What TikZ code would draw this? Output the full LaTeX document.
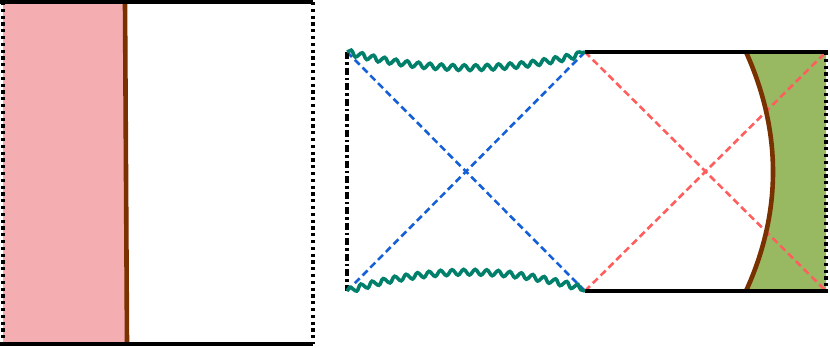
\documentclass[tikz,border=0pt]{standalone}
\usetikzlibrary{decorations.pathmorphing}
\definecolor{pinkfill}{HTML}{F4ADB0}
\definecolor{brownline}{HTML}{7A3100}
\definecolor{greenfill}{HTML}{98B861}
\definecolor{wavecol}{HTML}{00806A}
\definecolor{bluedash}{HTML}{1560D8}
\definecolor{reddash}{HTML}{FF5E5E}
\tikzset{
  frame/.style={line width=3.6pt, black},
  dotedge/.style={line width=3.6pt, black, dash pattern=on 3.2pt off 3.6pt},
  dashdotedge/.style={line width=3.2pt, black, dash pattern=on 7pt off 3pt on 2.5pt off 3pt},
  wall/.style={line width=4.6pt, brownline},
  wave/.style={line width=3.6pt, wavecol, decorate, decoration={snake, segment length=11.5pt, amplitude=2.8pt}},
  diagb/.style={line width=2.6pt, bluedash, dash pattern=on 7pt off 4pt},
  diagr/.style={line width=2.6pt, reddash, dash pattern=on 7pt off 4pt},
}
\begin{document}
\begin{tikzpicture}[x=1pt,y=-1pt]
\useasboundingbox (0,0) rectangle (830,348);
% ---------- left panel ----------
\coordinate (LTL) at (3,2);
\coordinate (LTR) at (313,2);
\coordinate (LBL) at (3,344);
\coordinate (LBR) at (313,344);
\coordinate (WT) at (125,2);
\coordinate (WB) at (127,344);
\fill[pinkfill] (LTL) -- (WT) -- (WB) -- (LBL) -- cycle;
\draw[wall] (WT) -- (WB);
\draw[dotedge] (LTL) -- (LBL);
\draw[dotedge] (LTR) -- (LBR);
\draw[frame] (0,2) -- (LTR);
\draw[frame] (0,344) -- (LBR);
% ---------- right panel ----------
\coordinate (A) at (347,52);
\coordinate (B) at (347,291);
\coordinate (C) at (585,52);
\coordinate (D) at (585,291);
\coordinate (E) at (826,52);
\coordinate (F) at (826,291);
\coordinate (GT) at (746,52);
\coordinate (GB) at (746,291);
\fill[greenfill] (GT) .. controls (782,132) and (782,212) .. (GB) -- (F) -- (E) -- cycle;
\draw[diagb] (A) -- (D);
\draw[diagb] (B) -- (C);
\draw[diagr] (C) -- (F);
\draw[diagr] (D) -- (E);
\draw[wall] (GT) .. controls (782,132) and (782,212) .. (GB);
\draw[dashdotedge] (A) -- (B);
\draw[dotedge] (E) -- (F);
\draw[frame] (C) -- (828,52);
\draw[frame] (D) -- (828,291);
\draw[wave] (A) .. controls (426,72) and (506,72) .. (C);
\draw[wave] (B) .. controls (426,267) and (506,267) .. (D);
\end{tikzpicture}
\end{document}
